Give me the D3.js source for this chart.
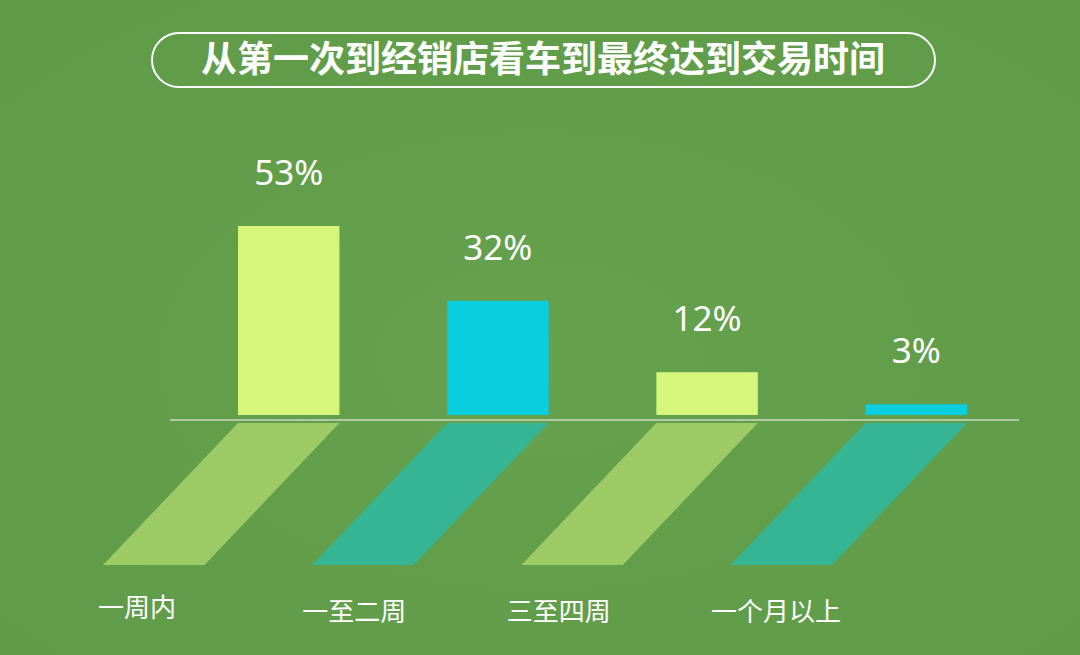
<!DOCTYPE html>
<html>
<head>
<meta charset="utf-8">
<script src="https://cdn.jsdelivr.net/npm/d3@7"></script>
<style>
  html, body { margin: 0; padding: 0; background: #629e4a; }
  svg { display: block; }
  text { font-family: "Noto Sans CJK SC", "Noto Sans", sans-serif; fill: #fff; }
</style>
</head>
<body>
<svg id="chart" width="1080" height="655"></svg>
<script>
const title = "从第一次到经销店看车到最终达到交易时间";
const categories = ["一周内", "一至二周", "三至四周", "一个月以上"];
const values = [53, 32, 12, 3];
const barColors = ["#d6f57b", "#0bcde0", "#d6f57b", "#0bcde0"];
const shadowColors = ["#9ccb66", "#36b594", "#9ccb66", "#36b594"];

const W = 1080, H = 655;
const svg = d3.select("#chart");

// soft radial glow in background
const defs = svg.append("defs");
const grad = defs.append("radialGradient").attr("id", "bg")
  .attr("cx", "50%").attr("cy", "55%").attr("r", "70%");
grad.append("stop").attr("offset", "0%").attr("stop-color", "#66a24d");
grad.append("stop").attr("offset", "100%").attr("stop-color", "#5f9b48");
svg.append("rect").attr("width", W).attr("height", H).attr("fill", "url(#bg)");

// title pill
svg.append("rect")
  .attr("x", 152).attr("y", 33).attr("width", 783).attr("height", 54)
  .attr("rx", 27).attr("ry", 27)
  .attr("fill", "none").attr("stroke", "#fff").attr("stroke-width", 2);
svg.append("text")
  .attr("x", 543).attr("y", 72)
  .attr("text-anchor", "middle")
  .style("font-size", "36px").style("font-weight", "bold")
  .text(title);

const baseY = 415;
const xb = d3.scaleBand().domain(categories).range([238, 967]).paddingInner(0.515);
const xl = d3.scalePoint().domain(categories).range([98, 711]);
const y = d3.scaleLinear().domain([0, 53]).range([baseY, 226]);

const g = svg.append("g");

// bars
g.selectAll("rect.bar").data(values).join("rect")
  .attr("class", "bar")
  .attr("x", (d, i) => xb(categories[i]))
  .attr("y", d => y(d))
  .attr("width", xb.bandwidth())
  .attr("height", d => baseY - y(d))
  .attr("fill", (d, i) => barColors[i]);

// value labels
g.selectAll("text.val").data(values).join("text")
  .attr("class", "val")
  .attr("x", (d, i) => xb(categories[i]) + xb.bandwidth() / 2)
  .attr("y", d => y(d) - 41)
  .attr("text-anchor", "middle")
  .style("font-family", "'Noto Sans', sans-serif")
  .style("font-size", "35px")
  .text(d => d + "%");

// baseline
g.append("line")
  .attr("x1", 170).attr("x2", 1019)
  .attr("y1", 420).attr("y2", 420)
  .attr("stroke", "#c9d8c0").attr("stroke-width", 1.5);

// slanted shadows
const sTop = 423, sBot = 565, skew = 135;
g.selectAll("path.shadow").data(values).join("path")
  .attr("class", "shadow")
  .attr("d", (d, i) => {
    const x0 = xb(categories[i]), x1 = x0 + xb.bandwidth();
    return `M${x0},${sTop}L${x1},${sTop}L${x1 - skew},${sBot}L${x0 - skew},${sBot}Z`;
  })
  .attr("fill", (d, i) => shadowColors[i]);

// category labels
g.selectAll("text.cat").data(categories).join("text")
  .attr("class", "cat")
  .attr("x", d => xl(d))
  .attr("y", (d, i) => i === 0 ? 617 : 621)
  .style("font-size", "26px")
  .text(d => d);
</script>
</body>
</html>
